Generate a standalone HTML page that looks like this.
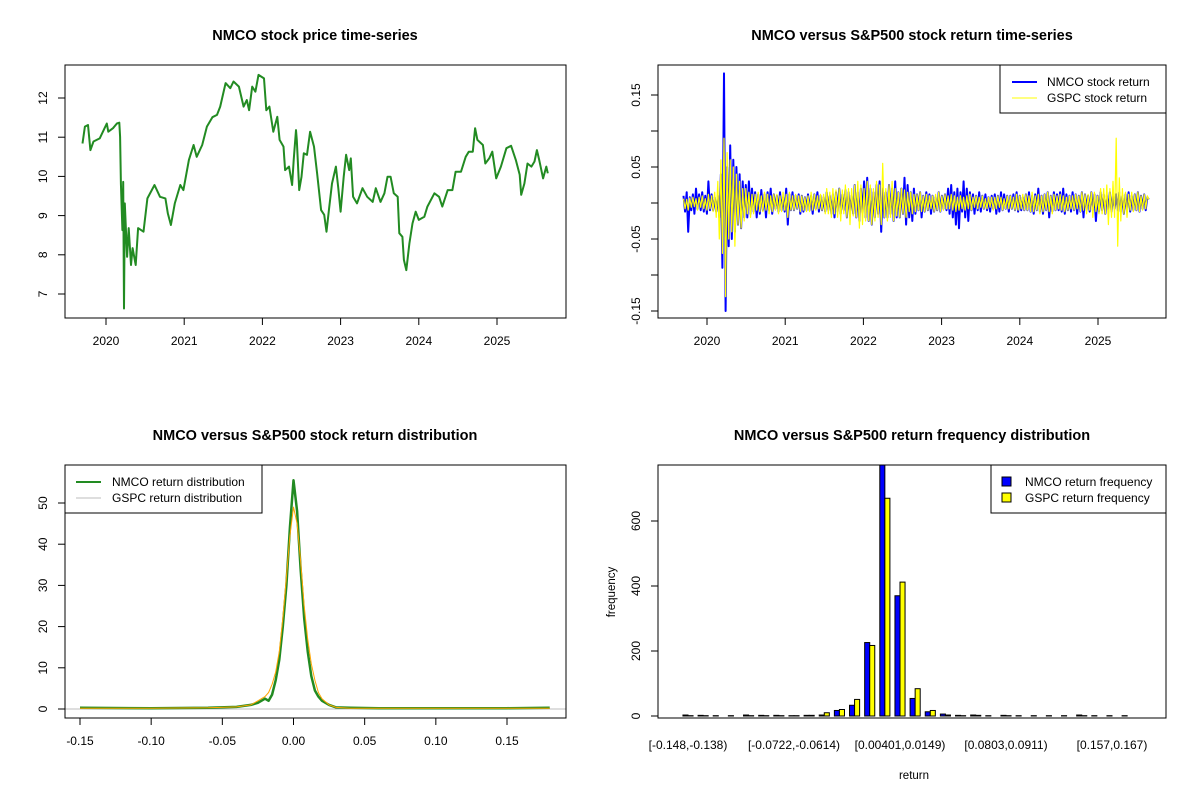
<!DOCTYPE html>
<html><head><meta charset="utf-8"><style>
html,body{margin:0;padding:0;background:#fff;}
svg{display:block;font-family:"Liberation Sans",Arial,sans-serif;}
</style></head><body>
<svg id="c" width="1200" height="800" viewBox="0 0 1200 800"></svg>
<script>
// ---------- Data ----------
const priceDates=[2019.70,2019.73,2019.77,2019.80,2019.84,2019.92,2020.01,2020.03,2020.09,2020.14,2020.17,2020.18,2020.19,2020.21,2020.22,2020.23,2020.24,2020.27,2020.29,2020.32,2020.34,2020.38,2020.41,2020.48,2020.53,2020.62,2020.69,2020.76,2020.79,2020.83,2020.88,2020.95,2020.99,2021.06,2021.12,2021.16,2021.23,2021.29,2021.36,2021.42,2021.46,2021.53,2021.59,2021.63,2021.70,2021.76,2021.80,2021.83,2021.87,2021.91,2021.95,2022.02,2022.05,2022.09,2022.14,2022.19,2022.22,2022.27,2022.29,2022.34,2022.38,2022.40,2022.43,2022.44,2022.47,2022.50,2022.53,2022.57,2022.61,2022.66,2022.70,2022.75,2022.79,2022.82,2022.85,2022.89,2022.94,2022.97,2023.00,2023.04,2023.07,2023.11,2023.13,2023.16,2023.21,2023.28,2023.34,2023.41,2023.45,2023.51,2023.56,2023.60,2023.64,2023.68,2023.73,2023.75,2023.79,2023.81,2023.84,2023.88,2023.92,2023.96,2024.00,2024.07,2024.11,2024.20,2024.26,2024.30,2024.37,2024.43,2024.47,2024.54,2024.60,2024.64,2024.69,2024.72,2024.75,2024.82,2024.85,2024.90,2024.94,2024.99,2025.05,2025.12,2025.18,2025.24,2025.29,2025.31,2025.35,2025.39,2025.44,2025.48,2025.51,2025.54,2025.59,2025.63,2025.65];
const priceValues=[10.84,11.27,11.31,10.67,10.89,10.97,11.35,11.14,11.23,11.35,11.37,11.01,9.82,8.63,9.86,6.63,9.31,7.95,8.68,7.74,8.17,7.74,8.68,8.59,9.44,9.78,9.48,9.44,9.06,8.76,9.31,9.78,9.65,10.42,10.80,10.50,10.80,11.27,11.51,11.57,11.78,12.38,12.25,12.42,12.29,11.78,11.95,11.69,12.29,12.16,12.59,12.50,11.69,11.78,11.14,11.52,10.93,10.76,10.16,10.25,9.78,10.42,11.18,10.93,9.65,9.99,10.59,10.55,11.14,10.76,10.08,9.14,9.02,8.59,9.14,9.82,10.25,9.70,9.10,9.99,10.55,10.16,10.46,9.48,9.31,9.70,9.48,9.35,9.70,9.35,9.57,9.99,9.99,9.57,9.48,8.55,8.46,7.87,7.61,8.29,8.80,9.10,8.89,8.97,9.23,9.57,9.48,9.23,9.65,9.65,10.12,10.12,10.50,10.63,10.63,11.23,10.93,10.80,10.33,10.46,10.63,9.95,10.25,10.72,10.78,10.42,10.04,9.53,9.82,10.33,10.25,10.38,10.67,10.42,9.95,10.25,10.08];
const nmcoReturns=[
0.01,-0.012,0.015,-0.04,0.008,-0.01,0.012,-0.015,0.02,-0.008,
0.012,-0.01,0.015,-0.012,0.01,-0.015,0.03,-0.01,0.012,-0.01,
0.008,-0.012,0.01,-0.02,0.04,-0.09,0.18,-0.15,0.05,-0.06,
0.08,-0.05,0.06,-0.04,0.05,-0.03,0.04,-0.035,0.03,-0.02,
0.025,-0.02,0.03,-0.015,0.02,-0.012,0.015,-0.02,0.012,-0.015,
0.018,-0.01,0.012,-0.02,0.015,-0.01,0.02,-0.015,0.012,-0.008,
0.01,-0.012,0.015,-0.01,0.008,-0.012,0.02,-0.03,0.012,-0.01,
0.015,-0.01,0.01,-0.008,0.012,-0.015,0.01,-0.012,0.008,-0.01,
0.012,-0.01,0.01,-0.015,0.012,-0.008,0.015,-0.012,0.01,-0.01,
0.008,-0.012,0.015,-0.01,0.01,-0.015,0.012,-0.02,0.015,-0.012,
0.02,-0.015,0.012,-0.01,0.018,-0.02,0.015,-0.012,0.01,-0.015,
0.025,-0.02,0.015,-0.025,0.02,-0.015,0.03,-0.02,0.035,-0.025,
0.02,-0.03,0.015,-0.02,0.025,-0.015,0.03,-0.04,0.02,-0.02,
0.015,-0.02,0.025,-0.015,0.02,-0.025,0.03,-0.02,0.015,-0.02,
0.02,-0.015,0.035,-0.03,0.025,-0.02,0.015,-0.025,0.02,-0.015,
0.012,-0.01,0.015,-0.02,0.01,-0.012,0.015,-0.01,0.012,-0.015,
0.01,-0.012,0.008,-0.01,0.015,-0.012,0.01,-0.008,0.012,-0.01,
0.02,-0.015,0.025,-0.02,0.015,-0.03,0.02,-0.035,0.015,-0.012,
0.03,-0.02,0.02,-0.025,0.015,-0.01,0.012,-0.015,0.01,-0.01,
0.015,-0.012,0.01,-0.008,0.012,-0.01,0.008,-0.012,0.01,-0.008,
0.012,-0.015,0.01,-0.012,0.015,-0.01,0.012,-0.008,0.01,-0.012,
0.01,-0.008,0.012,-0.01,0.015,-0.012,0.01,-0.01,0.008,-0.01,
0.012,-0.01,0.015,-0.012,0.01,-0.015,0.012,-0.01,0.02,-0.012,
0.01,-0.015,0.012,-0.01,0.015,-0.02,0.01,-0.012,0.015,-0.01,
0.012,-0.01,0.015,-0.012,0.02,-0.015,0.012,-0.01,0.01,-0.012,
0.015,-0.01,0.012,-0.015,0.01,-0.012,0.015,-0.02,0.012,-0.01,
0.01,-0.012,0.015,-0.01,0.012,-0.025,0.01,-0.012,0.015,-0.01,
0.012,-0.015,0.01,-0.01,0.015,-0.012,0.01,-0.008,0.012,-0.01,
0.015,-0.012,0.01,-0.015,0.012,-0.01,0.015,-0.012,0.01,-0.01,
0.012,-0.01,0.015,-0.012,0.01,-0.008,0.012,-0.01,0.008,0.005];
const gspcReturns=[
0.006,-0.008,0.005,-0.01,0.007,-0.006,0.008,-0.005,0.006,-0.01,
0.008,-0.006,0.01,-0.008,0.006,-0.01,0.012,-0.008,0.01,-0.012,
0.015,-0.02,0.03,-0.05,0.06,-0.07,0.09,-0.13,0.07,-0.05,
0.06,-0.04,0.05,-0.06,0.04,-0.03,0.03,-0.035,0.02,-0.025,
0.02,-0.015,0.015,-0.02,0.012,-0.015,0.012,-0.01,0.015,-0.012,
0.01,-0.012,0.015,-0.01,0.012,-0.015,0.01,-0.012,0.012,-0.01,
0.012,-0.015,0.01,-0.012,0.015,-0.01,0.012,-0.02,0.015,-0.01,
0.01,-0.01,0.012,-0.008,0.01,-0.012,0.01,-0.01,0.008,-0.012,
0.01,-0.012,0.015,-0.01,0.012,-0.01,0.01,-0.008,0.012,-0.01,
0.012,-0.015,0.02,-0.015,0.015,-0.02,0.02,-0.015,0.018,-0.02,
0.02,-0.025,0.018,-0.015,0.025,-0.02,0.02,-0.03,0.02,-0.018,
0.025,-0.02,0.03,-0.035,0.025,-0.03,0.02,-0.025,0.03,-0.025,
0.025,-0.03,0.02,-0.025,0.03,-0.02,0.025,-0.03,0.055,-0.02,
0.02,-0.025,0.025,-0.02,0.03,-0.025,0.02,-0.018,0.015,-0.02,
0.02,-0.015,0.018,-0.02,0.015,-0.012,0.015,-0.015,0.012,-0.012,
0.012,-0.01,0.015,-0.012,0.01,-0.012,0.012,-0.01,0.01,-0.008,
0.01,-0.012,0.012,-0.01,0.015,-0.012,0.01,-0.01,0.012,-0.008,
0.01,-0.008,0.012,-0.01,0.01,-0.012,0.008,-0.01,0.01,-0.008,
0.008,-0.01,0.01,-0.008,0.012,-0.01,0.008,-0.006,0.01,-0.008,
0.008,-0.006,0.01,-0.008,0.006,-0.008,0.008,-0.006,0.008,-0.01,
0.008,-0.008,0.01,-0.006,0.008,-0.01,0.006,-0.008,0.01,-0.008,
0.01,-0.008,0.008,-0.01,0.012,-0.01,0.01,-0.008,0.012,-0.01,
0.012,-0.01,0.01,-0.012,0.015,-0.012,0.01,-0.01,0.012,-0.015,
0.01,-0.012,0.012,-0.01,0.015,-0.012,0.01,-0.015,0.012,-0.01,
0.01,-0.008,0.012,-0.01,0.01,-0.012,0.008,-0.01,0.01,-0.008,
0.01,-0.01,0.012,-0.008,0.01,-0.012,0.015,-0.01,0.012,-0.015,
0.012,-0.01,0.015,-0.02,0.015,-0.012,0.01,-0.015,0.02,-0.015,
0.02,-0.015,0.025,-0.03,0.02,-0.02,0.03,-0.02,0.09,-0.06,
0.035,-0.025,0.02,-0.015,0.015,-0.02,0.012,-0.01,0.015,-0.012,
0.012,-0.01,0.015,-0.012,0.01,-0.01,0.012,-0.008,0.01,0.005];
const densX=[-0.15,-0.1,-0.06,-0.04,-0.03,-0.025,-0.02,-0.0175,-0.015,-0.0125,-0.01,-0.0075,-0.005,-0.0025,0,0.0025,0.005,0.0075,0.01,0.0125,0.015,0.0175,0.02,0.025,0.03,0.04,0.06,0.1,0.15,0.18];
const densNMCO=[0.3,0.2,0.3,0.5,1,1.5,2.5,2,3.5,7,12,20,30,44,55.5,48,34,22,14,8,4.5,3,2,1,0.4,0.3,0.2,0.2,0.2,0.3];
const densGSPC=[0.2,0.2,0.3,0.5,1,2,3,4,6,9,14,22,32,42,49,45,36,25,17,11,7,4,2.5,1,0.4,0.2,0.2,0.2,0.2,0.2];
const histNMCO=[3,2,1,1,3,2,2,1,2,3,17,33,226,790,370,54,13,6,2,3,1,2,1,1,1,1,3,1,1,1];
const histGSPC=[1,1,0,0,1,1,1,1,2,10,20,51,217,670,412,84,17,3,1,2,0,1,0,0,0,0,1,0,0,0];
const histLabels=["[-0.148,-0.138)","[-0.0722,-0.0614)","[0.00401,0.0149)","[0.0803,0.0911)","[0.157,0.167)"];
const histLabelIdx=[0,7,14,21,28];
const yearTicks=[2020,2021,2022,2023,2024,2025];
const priceTicks=[7,8,9,10,11,12];
const retTicks=[-0.15,-0.10,-0.05,0,0.05,0.10,0.15];
const retTickLabels=["-0.15","","-0.05","","0.05","","0.15"];
const densXTicks=[-0.15,-0.10,-0.05,0,0.05,0.10,0.15];
const densXLabels=["-0.15","-0.10","-0.05","0.00","0.05","0.10","0.15"];
const densYTicks=[0,10,20,30,40,50];
const histYTicks=[0,200,400,600];

// ---------- helpers ----------
const svg=document.getElementById('c');
const NS='http://www.w3.org/2000/svg';
function mk(tag,attrs,parent){const e=document.createElementNS(NS,tag);for(const k in attrs)e.setAttribute(k,attrs[k]);(parent||svg).appendChild(e);return e;}
function txt(s,x,y,attrs,parent){const e=mk('text',Object.assign({x:x,y:y,'font-size':12,fill:'#000','text-anchor':'middle'},attrs||{}),parent);e.textContent=s;return e;}
function lin(d0,d1,r0,r1){return v=>r0+(v-d0)*(r1-r0)/(d1-d0);}
function box(x0,y0,x1,y1,name){const r=mk('rect',{x:x0,y:y0,width:x1-x0,height:y1-y0,fill:'none',stroke:'#000','stroke-width':1});}
function xTicks(vals,labels,sx,yb,name){const g=mk('g',{});
 vals.forEach((v,i)=>{const x=sx(v);mk('line',{x1:x,x2:x,y1:yb,y2:yb+7,stroke:'#000'},g);if(labels[i]!=='')txt(labels[i],x,yb+27,{},g);});}
function yTicks(vals,labels,sy,xl,name){const g=mk('g',{});
 vals.forEach((v,i)=>{const y=sy(v);mk('line',{x1:xl,x2:xl-7,y1:y,y2:y,stroke:'#000'},g);if(labels[i]!==''){txt(labels[i],xl-18,y,{transform:`rotate(-90 ${xl-18} ${y})`},g);}});}
function title(s,x,y,name){const t=txt(s,x,y,{'font-weight':'bold','font-size':14.5});}
function poly(xs,ys,sx,sy,color,w,name){const p=xs.map((x,i)=>sx(x).toFixed(1)+','+sy(ys[i]).toFixed(1)).join(' ');const e=mk('polyline',{points:p,fill:'none',stroke:color,'stroke-width':w,'stroke-linejoin':'round'});return e;}

// ---------- Panel 1: price ----------
{const sx=lin(2020,2025,106,497),sy=lin(7,12,294,98);
 title('NMCO stock price time-series',315,40,'price-chart-title');
 poly(priceDates,priceValues,sx,sy,'#228B22',2,'price-line');
 box(65,65,566,318,'price-plot-frame');
 xTicks(yearTicks,yearTicks.map(String),sx,318,'price-x-axis');
 yTicks(priceTicks,priceTicks.map(String),sy,65,'price-y-axis');}

// ---------- Panel 2: returns ----------
{const sx=lin(2020,2025,707,1098),sy=lin(0,0.15,203,95);
 title('NMCO versus S&P500 stock return time-series',912,40,'return-chart-title');
 const d0=2019.70,d1=2025.65;
 const nd=nmcoReturns.map((_,i)=>d0+(d1-d0)*i/(nmcoReturns.length-1));
 const gd=gspcReturns.map((_,i)=>d0+(d1-d0)*i/(gspcReturns.length-1));
 poly(nd,nmcoReturns,sx,sy,'#0000FF',2,'nmco-return-line');
 poly(gd,gspcReturns,sx,sy,'#FFFF00',1.2,'gspc-return-line');
 box(658,65,1166,318,'return-plot-frame');
 xTicks(yearTicks,yearTicks.map(String),sx,318,'return-x-axis');
 yTicks(retTicks,retTickLabels,sy,658,'return-y-axis');
 const lg=mk('g',{});
 mk('rect',{x:1000,y:65,width:166,height:48,fill:'#fff',stroke:'#000'},lg);
 mk('line',{x1:1012,x2:1037,y1:82,y2:82,stroke:'#0000FF','stroke-width':2},lg);
 mk('line',{x1:1012,x2:1037,y1:98,y2:98,stroke:'#FFFF00','stroke-width':1},lg);
 txt('NMCO stock return',1047,86,{'text-anchor':'start'},lg);
 txt('GSPC stock return',1047,102,{'text-anchor':'start'},lg);}

// ---------- Panel 3: density ----------
{const sx=lin(-0.15,0.15,80,507),sy=lin(0,50,709,503);
 title('NMCO versus S&P500 stock return distribution',315,440,'density-chart-title');
 const z=mk('line',{x1:65,x2:566,y1:709,y2:709,stroke:'#BEBEBE'});
 poly(densX,densNMCO,sx,sy,'#228B22',2.5,'nmco-density-line');
 poly(densX,densGSPC,sx,sy,'#FFA500',1,'gspc-density-line');
 box(65,465,566,718,'density-plot-frame');
 xTicks(densXTicks,densXLabels,sx,718,'density-x-axis');
 yTicks(densYTicks,densYTicks.map(String),sy,65,'density-y-axis');
 const lg=mk('g',{});
 mk('rect',{x:65,y:465,width:197,height:48,fill:'#fff',stroke:'#000'},lg);
 mk('line',{x1:76,x2:101,y1:482,y2:482,stroke:'#228B22','stroke-width':2},lg);
 mk('line',{x1:76,x2:101,y1:498,y2:498,stroke:'#BEBEBE','stroke-width':1},lg);
 txt('NMCO return distribution',112,486,{'text-anchor':'start'},lg);
 txt('GSPC return distribution',112,502,{'text-anchor':'start'},lg);}

// ---------- Panel 4: histogram ----------
{const gx=lin(0,28,688,1112),sy=lin(0,600,716,521),bw=5.05;
 title('NMCO versus S&P500 return frequency distribution',912,440,'histogram-chart-title');
 const cp=mk('clipPath',{id:'hc'});mk('rect',{x:658,y:465,width:508,height:253},cp);
 const g=mk('g',{'clip-path':'url(#hc)'});
 histNMCO.forEach((v,i)=>{const c=gx(i);const r=mk('rect',{x:c-bw,y:sy(v),width:bw,height:sy(0)-sy(v),fill:'#0000FF',stroke:'#000','stroke-width':1},g);
  });
 histGSPC.forEach((v,i)=>{const c=gx(i);const r=mk('rect',{x:c,y:sy(v),width:bw,height:sy(0)-sy(v),fill:'#FFFF00',stroke:'#000','stroke-width':1},g);
  });
 box(658,465,1166,718,'histogram-plot-frame');
 const xa=mk('g',{});
 histLabelIdx.forEach((k,i)=>txt(histLabels[i],gx(k),749,{},xa));
 yTicks(histYTicks,histYTicks.map(String),sy,658,'histogram-y-axis');
 const yl=txt('frequency',615,592,{transform:'rotate(-90 615 592)','font-size':11.5});
 const xl=txt('return',914,779,{'font-size':11.5});
 const lg=mk('g',{});
 mk('rect',{x:991,y:465,width:175,height:48,fill:'#fff',stroke:'#000'},lg);
 mk('rect',{x:1002,y:477,width:9,height:9,fill:'#0000FF',stroke:'#000'},lg);
 mk('rect',{x:1002,y:493,width:9,height:9,fill:'#FFFF00',stroke:'#000'},lg);
 txt('NMCO return frequency',1025,486,{'text-anchor':'start'},lg);
 txt('GSPC return frequency',1025,502,{'text-anchor':'start'},lg);}
</script>
</body></html>
